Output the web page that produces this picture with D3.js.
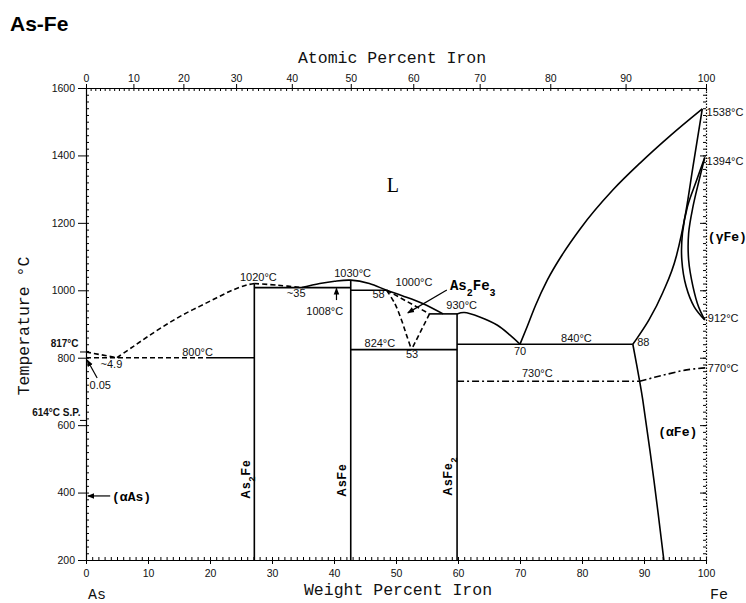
<!DOCTYPE html>
<html>
<head>
<meta charset="utf-8">
<script src="https://cdn.jsdelivr.net/npm/d3@7"></script>
<style>
  body { margin: 0; background: #fff; }
  #container { width: 746px; height: 603px; }
</style>
</head>
<body>
<div id="container"></div>
<script>
// all values are [wt% Fe, temperature °C]
const wtTicks = d3.range(0, 101, 10);
const atTicks = d3.range(0, 101, 10);
const tempTicks = d3.range(200, 1601, 200);

// compounds (line compounds)
const as2FeLine = [[27.15, 200], [27.15, 1020]];
const asFeLine = [[42.7, 200], [42.7, 1030]];
const asFe2Line = [[59.85, 200], [59.85, 930]];

// invariant reactions
const eut800Solid = [[19.5, 800], [27.15, 800]];
const eut800Dash = [[0, 800], [19.5, 800]];
const eut1008 = [[27.15, 1008], [42.7, 1008]];
const per1000 = [[42.7, 1000], [48.5, 1000]];
const per930 = [[55.4, 930], [59.85, 930]];
const eutd824 = [[42.7, 824], [59.85, 824]];
const eut840 = [[59.85, 840], [88.2, 840]];
const mag730 = [[59.85, 730], [89.3, 730]];

// liquidus / solidus / solvus curves
const liqAsDash = [[0, 817], [5, 800]];
const liqAs2FeDash = [[5, 800], [7.6, 833], [10.3, 867], [13.1, 900], [15.6, 927], [18.4, 953], [21.1, 978], [23.7, 1001], [26, 1016], [27.15, 1020]];
const liqAs2FeRightDash = [[27.15, 1020], [31, 1015], [34.8, 1008]];
const liqAsFe = [[34.8, 1008], [37.7, 1020], [40.1, 1027], [42.7, 1030], [45.7, 1020], [48.5, 1000], [51, 984], [54.3, 961], [57.6, 930]];
const liqAsFe2 = [[59.85, 930], [61, 934], [63.5, 921], [66.3, 897], [68.4, 867], [70, 840]];
const as2Fe3Top = [[48.5, 1000], [55.4, 930]];
const as2Fe3Right = [[55.4, 930], [52.5, 824]];
const as2Fe3Left = [[48.5, 1000], [49.8, 961], [50.9, 911], [51.7, 867], [52.5, 824]];
const liqFe = [[70, 840], [71, 885], [72.5, 955], [74.4, 1030], [76.9, 1108], [79.7, 1182], [85, 1298], [89.4, 1378], [94.2, 1458], [99.4, 1538]];
const solidusFe = [[88.2, 840], [88.7, 853], [90.8, 912], [93, 992], [95.2, 1100], [96.8, 1238], [97.9, 1367], [99.4, 1538]];
const gammaOuter = [[99.8, 1394], [98.5, 1327], [97, 1248], [96.2, 1169], [96.1, 1090], [96.8, 1011], [98.1, 951], [99.8, 912]];
const gammaInner = [[99.8, 1394], [98.9, 1327], [97.9, 1248], [97.2, 1169], [97.2, 1090], [97.9, 1011], [98.8, 951], [99.8, 912]];
const alphaSolvus = [[88.2, 840], [89.3, 730], [89.8, 675], [91.6, 437], [93.2, 200]];
const magCurve = [[89.3, 730], [91.7, 742], [93.7, 751], [96.9, 764], [100, 770]];

// annotations
const centerLabels = [
  ["1020°C", 27.8, 1027], ["1030°C", 43.0, 1040], ["~35", 33.9, 981], ["1008°C", 38.5, 927],
  ["1000°C", 52.9, 1013], ["58", 47.2, 976], ["930°C", 60.6, 944], ["824°C", 47.4, 833],
  ["53", 52.6, 799], ["70", 70, 808], ["840°C", 79.1, 847], ["730°C", 72.8, 744],
  ["800°C", 18, 805], ["~4.9", 4.1, 769], ["0.05", 2.3, 707]
];
const startLabels = [["88", 88.9, 835], ["770°C", 100.3, 757], ["912°C", 100.3, 906], ["1538°C", 100.1, 1517], ["1394°C", 100.1, 1372]];
const endLabels = [["817°C", -1.2, 833], ["614°C S.P.", -0.9, 626]];
const phaseLabels = [["(γFe)", 100.3, 1146], ["(αFe)", 92.3, 568], ["(αAs)", 4.2, 375]];
const compoundLabels = [[["As", ""], ["2", "sub"], ["Fe", ""]], [["AsFe", ""]], [["AsFe", ""], ["2", "sub"]]];
const compoundPos = [[27.2, 440], [42.75, 437], [59.9, 449]];
const leftMarks = [817, 614];
const arrows = [
  [[40.4, 971], [40.4, 1006]],
  [[58.2, 1001], [51.9, 933]],
  [[1.8, 740], [0.2, 793]],
  [[3.9, 390], [0.3, 390]]
];

const atToWt = a => 100 * a * 55.845 / (a * 55.845 + (100 - a) * 74.9216);

const margin = {top: 88, right: 40, bottom: 43, left: 86};
const width = 746 - margin.left - margin.right;
const height = 603 - margin.top - margin.bottom;

const svg = d3.select("#container").append("svg")
  .attr("width", 746)
  .attr("height", 603);

svg.append("defs").append("marker")
  .attr("id", "arr")
  .attr("viewBox", "0 0 10 10")
  .attr("refX", 9).attr("refY", 5)
  .attr("markerWidth", 7).attr("markerHeight", 7)
  .attr("markerUnits", "userSpaceOnUse")
  .attr("orient", "auto")
  .append("path").attr("d", "M0,1 L10,5 L0,9 Z").attr("fill", "#000");

svg.append("text")
  .attr("x", 10).attr("y", 31)
  .style("font-family", "Liberation Sans, Arial, sans-serif")
  .style("font-weight", "bold")
  .style("font-size", "21px")
  .text("As-Fe");

const g = svg.append("g")
  .attr("transform", `translate(${margin.left},${margin.top})`);

const x = d3.scaleLinear().domain([0, 100]).range([0, width]);
const y = d3.scaleLinear().domain([200, 1600]).range([height, 0]);

const tickFont = sel => sel.selectAll("text")
  .style("font-family", "Liberation Sans, Arial, sans-serif")
  .style("font-size", "10.5px")
  .attr("fill", "#111");

// bottom axis
g.append("g").attr("transform", `translate(0,${height})`)
  .call(d3.axisBottom(x).tickValues(d3.range(0, 101, 1)).tickSize(-3).tickFormat(""))
  .call(a => a.select(".domain").remove());
g.append("g").attr("transform", `translate(0,${height})`)
  .call(d3.axisBottom(x).tickValues(wtTicks).tickSizeInner(4).tickSizeOuter(0).tickPadding(6))
  .call(tickFont);

// top axis (atomic percent)
g.append("g")
  .call(d3.axisTop(x).tickValues(d3.range(0, 101, 1).map(atToWt)).tickSize(-3).tickFormat(""))
  .call(a => a.select(".domain").remove());
g.append("g")
  .call(d3.axisTop(x).tickValues(atTicks.map(atToWt)).tickFormat((d, i) => atTicks[i])
    .tickSizeInner(4).tickSizeOuter(0).tickPadding(2))
  .call(tickFont);

// left axis
g.append("g")
  .call(d3.axisLeft(y).tickValues(d3.range(200, 1601, 20)).tickSize(-3).tickFormat(""))
  .call(a => a.select(".domain").remove());
g.append("g")
  .call(d3.axisLeft(y).tickValues(tempTicks).tickFormat(d3.format("d"))
    .tickSizeInner(8).tickSizeOuter(0).tickPadding(3))
  .call(tickFont);

// right axis
g.append("g").attr("transform", `translate(${width},0)`)
  .call(d3.axisRight(y).tickValues(d3.range(200, 1601, 20)).tickSize(-3).tickFormat(""))
  .call(a => a.select(".domain").attr("stroke-dasharray", "1.5,1.5"));
g.append("g").attr("transform", `translate(${width},0)`)
  .call(d3.axisRight(y).tickValues(tempTicks).tickSize(-6).tickFormat(""))
  .call(a => a.select(".domain").remove());

g.selectAll(".domain").attr("stroke-width", 1.2);

// extra marks on the As axis
leftMarks.forEach(t => {
  g.append("line")
    .attr("x1", -6).attr("x2", 0)
    .attr("y1", y(t)).attr("y2", y(t))
    .attr("stroke", "#000");
});

const straight = d3.line().x(d => x(d[0])).y(d => y(d[1]));
const smooth = d3.line().x(d => x(d[0])).y(d => y(d[1])).curve(d3.curveCatmullRom.alpha(0.5));
const mono = d3.line().x(d => x(d[0])).y(d => y(d[1])).curve(d3.curveMonotoneX);

function draw(points, gen, dash) {
  g.append("path")
    .datum(points)
    .attr("fill", "none")
    .attr("stroke", "#000")
    .attr("stroke-width", 1.6)
    .attr("stroke-linejoin", "round")
    .attr("stroke-dasharray", dash)
    .attr("d", gen);
}

[as2FeLine, asFeLine, asFe2Line, eut800Solid, eut1008, per1000, per930, eutd824, eut840]
  .forEach(p => draw(p, straight, null));
[liqAsFe, liqAsFe2, gammaOuter, gammaInner, alphaSolvus]
  .forEach(p => draw(p, smooth, null));
[liqFe, solidusFe].forEach(p => draw(p, mono, null));
[eut800Dash, liqAsDash, as2Fe3Top, as2Fe3Right].forEach(p => draw(p, straight, "5,3"));
[liqAs2FeDash, liqAs2FeRightDash, as2Fe3Left].forEach(p => draw(p, smooth, "5,3"));
draw(mag730, straight, "7,3,2,3");
draw(magCurve, smooth, "7,3,2,3");

arrows.forEach(a => {
  g.append("line")
    .attr("x1", x(a[0][0])).attr("y1", y(a[0][1]))
    .attr("x2", x(a[1][0])).attr("y2", y(a[1][1]))
    .attr("stroke", "#000").attr("stroke-width", 1.2)
    .attr("marker-end", "url(#arr)");
});

const annoFont = sel => sel
  .style("font-family", "Liberation Sans, Arial, sans-serif")
  .style("font-size", "11px")
  .attr("fill", "#111");

centerLabels.forEach(([t, wx, ty]) => {
  g.append("text").attr("x", x(wx)).attr("y", y(ty)).attr("text-anchor", "middle").call(annoFont).text(t);
});
startLabels.forEach(([t, wx, ty]) => {
  g.append("text").attr("x", x(wx)).attr("y", y(ty)).attr("text-anchor", "start").call(annoFont).text(t);
});
endLabels.forEach(([t, wx, ty]) => {
  g.append("text").attr("x", x(wx)).attr("y", y(ty)).attr("text-anchor", "end").call(annoFont)
    .style("font-weight", "bold").style("font-size", "10px").text(t);
});

phaseLabels.forEach(([t, wx, ty]) => {
  g.append("text").attr("x", x(wx)).attr("y", y(ty))
    .style("font-family", "Liberation Mono, Courier New, monospace")
    .style("font-size", "13px").style("font-weight", "bold")
    .text(t);
});

// As2Fe3 label
const as2fe3 = g.append("text").attr("x", x(58.7)).attr("y", y(1001))
  .style("font-family", "Liberation Mono, Courier New, monospace")
  .style("font-size", "14px").style("font-weight", "bold");
[["As", ""], ["2", "sub"], ["Fe", ""], ["3", "sub"]].forEach(([t, s]) => {
  const ts = as2fe3.append("tspan").text(t);
  if (s) ts.attr("baseline-shift", "sub").style("font-size", "10px");
});

g.append("text").attr("x", x(49.5)).attr("y", y(1291)).attr("text-anchor", "middle")
  .style("font-family", "Liberation Serif, Times New Roman, serif")
  .style("font-size", "20px")
  .text("L");

compoundLabels.forEach((parts, i) => {
  const [wx, ty] = compoundPos[i];
  const t = g.append("text")
    .attr("transform", `translate(${x(wx) - 5},${y(ty)}) rotate(-90)`)
    .attr("text-anchor", "middle")
    .style("font-family", "Liberation Sans, Arial, sans-serif")
    .style("font-size", "12px").style("font-weight", "bold")
    .style("letter-spacing", "1px");
  parts.forEach(([s, shift]) => {
    const ts = t.append("tspan").text(s);
    if (shift) ts.attr("baseline-shift", "sub").style("font-size", "9px");
  });
});

// axis titles
const titleFont = sel => sel
  .style("font-family", "Liberation Mono, Courier New, monospace")
  .style("font-size", "16.5px")
  .attr("fill", "#111");

svg.append("text").attr("x", 392).attr("y", 63).attr("text-anchor", "middle").call(titleFont).text("Atomic Percent Iron");
svg.append("text").attr("x", 398).attr("y", 595).attr("text-anchor", "middle").call(titleFont).text("Weight Percent Iron");
svg.append("text").attr("transform", "translate(29,326) rotate(-90)").attr("text-anchor", "middle").call(titleFont).text("Temperature °C");
svg.append("text").attr("x", 88).attr("y", 599).call(titleFont).style("font-size", "15px").text("As");
svg.append("text").attr("x", 710).attr("y", 599).call(titleFont).style("font-size", "15px").text("Fe");
</script>
</body>
</html>
